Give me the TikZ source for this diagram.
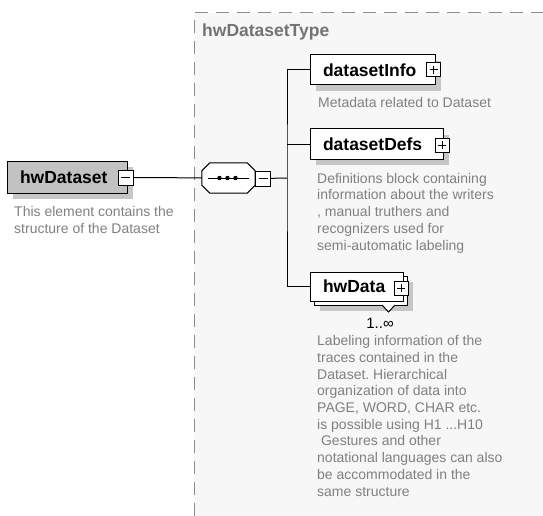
\documentclass[tikz,border=0pt]{standalone}
\usepackage{fontspec}
\setmainfont{Liberation Sans}
\frenchspacing
\usetikzlibrary{positioning,shadows}
\definecolor{typefill}{HTML}{F7F7F7}
\definecolor{typeline}{HTML}{8C8C8C}
\definecolor{doctext}{HTML}{808080}
\definecolor{shadowgray}{HTML}{C6C6C6}
\definecolor{rootfill}{HTML}{C2C2C2}
\tikzstyle{element}=[
	rectangle,
	draw=black,
	fill=white,
	line width=1,
	minimum height=30,
	inner sep=0,
	inner xsep=13,
	align=left,
	font=\fontsize{17.5}{20}\selectfont\bfseries]
\tikzstyle{shadowed}=[
	drop shadow={shadow xshift=6pt,shadow yshift=-6pt,fill=shadowgray,opacity=1}]
\tikzstyle{expandbox}=[
	rectangle,
	draw=black,
	fill=white,
	line width=1,
	minimum size=14,
	inner sep=0,
	path picture={\draw[line width=1] ([xshift=3pt]path picture bounding box.west) -- ([xshift=-3pt]path picture bounding box.east)
		([yshift=-3pt]path picture bounding box.north) -- ([yshift=3pt]path picture bounding box.south);}]
\tikzstyle{collapsebox}=[
	rectangle,
	draw=black,
	fill=white,
	line width=1,
	minimum size=15,
	inner sep=0,
	path picture={\draw[line width=1] ([xshift=3pt]path picture bounding box.west) -- ([xshift=-3pt]path picture bounding box.east);}]
\tikzstyle{doc}=[
	anchor=base west,
	align=left,
	inner sep=0,
	text=doctext,
	font=\fontsize{14}{16.7}\selectfont]

\begin{document}
\begin{tikzpicture}[x=1pt,y=-1pt]
		\useasboundingbox (0,0) rectangle (543,516);
		% complex type area
		\fill[typefill] (194,13) rectangle (543,516);
		\draw[typeline,line width=1,dash pattern=on 13pt off 8pt] (194,516) -- (194,13) -- (543,13);
		\node[doc,text=doctext!90!black,font=\fontsize{17.5}{20}\selectfont\bfseries] (typename) at (202,37) {hwDatasetType};
		% root element (multi-line docs sit on their last baseline)
		\node[element,shadowed,fill=rootfill,text width=94,minimum height=32] (hwds) at (67,177) {hwDataset};
		\node[collapsebox] (hwdsm) at (125.5,177.5) {};
		\node[doc] (hwdsdoc) at (14,233) {This element contains the\\structure of the Dataset};
		% sequence compositor
		\node[minimum width=53,minimum height=30,inner sep=0] (seq) at (228.5,178) {};
		\fill[shadowgray,shift={(6,6)}] ([xshift=8pt]seq.north west) -- ([xshift=-8pt]seq.north east) -- ([yshift=-8pt]seq.north east)
			-- ([yshift=8pt]seq.south east) -- ([xshift=-8pt]seq.south east) -- ([xshift=8pt]seq.south west)
			-- ([yshift=8pt]seq.south west) -- ([yshift=-8pt]seq.north west) -- cycle;
		\draw[line width=1,fill=white] ([xshift=8pt]seq.north west) -- ([xshift=-8pt]seq.north east) -- ([yshift=-8pt]seq.north east)
			-- ([yshift=8pt]seq.south east) -- ([xshift=-8pt]seq.south east) -- ([xshift=8pt]seq.south west)
			-- ([yshift=8pt]seq.south west) -- ([yshift=-8pt]seq.north west) -- cycle;
		\draw[line width=1] ([xshift=6pt]seq.west) -- ([xshift=-6pt]seq.east);
		\foreach \dx in {-9,-1,7}
			\fill ([xshift=\dx pt]seq.center) circle (2.2pt);
		\node[collapsebox] (seqm) at (263,178.5) {};
		\coordinate (bus) at (287,178);
		% children
		\node[element,shadowed,text width=99] (info) at (372.5,70) {datasetInfo};
		\node[expandbox] (infox) at (433.5,70) {};
		\node[doc] (infodoc) at (318,107) {Metadata related to Dataset};
		\node[element,shadowed,text width=107] (defs) at (376.5,144) {datasetDefs};
		\node[expandbox] (defsx) at (442,145) {};
		\node[doc] (defsdoc) at (317,250) {Definitions block containing\\information about the writers\\, manual truthers and\\recognizers used for\\semi-automatic labeling};
		\node[element,shadowed,minimum width=93,minimum height=29] (hwdataback) at (360.5,290.5) {};
		\node[element,text width=67,minimum height=29] (hwdata) at (356.5,286.5) {hwData};
		\node[expandbox] (hwdatax) at (401,288) {};
		\draw[line width=1,fill=white] (382,305) -- (388.5,312) -- (395,305);
		\node[inner sep=0,anchor=base,font=\fontsize{15}{17}\selectfont] (card) at (380,328) {1..∞};
		\node[doc] (hwdatadoc) at (317,496) {Labeling information of the\\traces contained in the\\Dataset. Hierarchical\\organization of data into\\PAGE, WORD, CHAR etc.\\is possible using H1 ...H10\\\ Gestures and other\\notational languages can also\\be accommodated in the\\same structure};
		% connectors
		\draw[line width=1] (hwdsm) -- (seq);
		\draw[line width=1] (seqm) -- (bus);
		\draw[line width=1] (info.west) -| (bus) |- (hwdata.west);
		\draw[line width=1] (defs.west) -- (defs.west -| bus);
\end{tikzpicture}
\end{document}
